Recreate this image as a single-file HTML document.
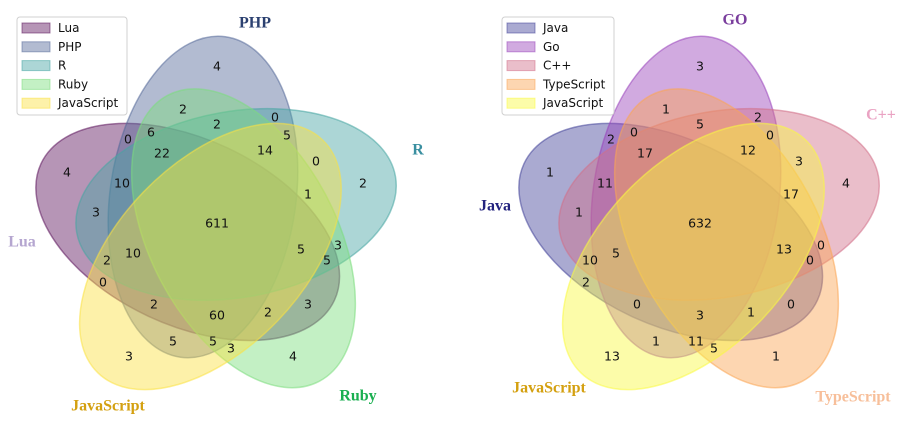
<!DOCTYPE html>
<html><head><meta charset="utf-8"><style>
html,body{margin:0;padding:0;background:#fff;}
svg{display:block;font-family:"DejaVu Sans","Liberation Sans",sans-serif;}
.num{font-size:12.5px;fill:#111;text-anchor:middle;dominant-baseline:central;}
.set{font-family:"Liberation Serif","DejaVu Serif",serif;font-weight:bold;font-size:16px;text-anchor:middle;dominant-baseline:central;}
.leg{font-size:12px;fill:#111;dominant-baseline:central;}
</style></head><body>
<svg id="chart" width="911" height="427" viewBox="0 0 911 427"></svg>
<script>
// shared layout (pyvenn venn5 geometry, unit coords)
const centersX = [0.428, 0.469, 0.558, 0.578, 0.489];
const centersY = [0.449, 0.543, 0.523, 0.432, 0.383];
const anglesDeg = [155, 82, 10, 118, 46];
// left diagram data
const leftSets = ["Lua","PHP","R","Ruby","JavaScript"];
const leftColors = ["#5d155d","#556999","#47a5a3","#7bdd7d","#fbe141"];
const leftTitleColors = ["#b5a6d0","#2b4070","#3a8fa0","#1aaf50","#d4a010"];
const leftValues = [4,4,2,2,0,5,6,0,22,14,0,2,10,1,3,611,5,3,5,10,2,0,2,60,2,3,5,5,3,4,3];
// right diagram data
const rightSets = ["Java","Go","C++","TypeScript","JavaScript"];
const rightTitles = ["Java","GO","C++","TypeScript","JavaScript"];
const rightColors = ["#434399","#9943bb","#d16f89","#fba553","#f9f941"];
const rightTitleColors = ["#23237f","#7a3e9d","#eaa3c3","#f7bf9a","#d4a010"];
const rightValues = [1,3,1,5,2,0,0,2,17,12,3,4,11,17,1,632,13,0,0,5,10,2,0,3,1,0,1,11,5,1,13];

// region label positions (pixel, left panel)
const regionPX = [67,217,183,217,275,287,151,128,162,265,316,363,122,308,96,217,301,338,327,133,107,103,154,217,268,308,173,213,231,293,129];
const regionPY = [172,66,109,124,117,135,132,139,153,150,161,183,183,194,212,223,249,245,260,253,260,282,304,315,312,304,341,341,348,356,356];
const leftTitleX = [22,255,418,358,108];
const leftTitleY = [242,23,150,396,406];
const rightTitleX = [495,735,881,853,549];
const rightTitleY = [206,20,115,397,388];

const S = 372, Y0 = 399;
const NS = "http://www.w3.org/2000/svg";
const svg = document.getElementById('chart');
function mk(tag, attrs, parent){const e=document.createElementNS(NS,tag);for(const k in attrs)e.setAttribute(k,attrs[k]);(parent||svg).appendChild(e);return e;}

function drawPanel(x0, dx, sets, titles, colors, titleColors, values, tX, tY, legX, legW, key){
  const g = mk('g',{});
  
  
  for(let i=0;i<5;i++){
    const cx = x0 + centersX[i]*S, cy = Y0 - centersY[i]*S;
    const e = mk('ellipse',{cx:cx,cy:cy,rx:0.435*S,ry:0.25*S,transform:`rotate(${-anglesDeg[i]} ${cx} ${cy})`,fill:colors[i],'fill-opacity':0.45,stroke:colors[i],'stroke-opacity':0.55,'stroke-width':1.5},g);
    
    
  }
  for(let i=0;i<values.length;i++){
    const t = mk('text',{x:regionPX[i]+dx,y:regionPY[i],class:'num'},g);
    t.textContent = values[i];
    
    
  }
  for(let i=0;i<5;i++){
    const t = mk('text',{x:tX[i],y:tY[i],class:'set',fill:titleColors[i]},g);
    t.textContent = titles[i];
    
    
  }
  const lg = mk('g',{},g);
  
  
  mk('rect',{x:legX,y:17,width:legW,height:98,rx:3,fill:'#fff','fill-opacity':0.8,stroke:'#d0d0d0'},lg);
  for(let i=0;i<5;i++){
    const y = 28 + i*18.8;
    const p = mk('rect',{x:legX+5,y:y-5,width:28,height:10,fill:colors[i],'fill-opacity':0.45,stroke:colors[i],'stroke-opacity':0.55},lg);
    
    
    const t = mk('text',{x:legX+41,y:y,class:'leg'},lg);
    t.textContent = sets[i];
    
    
  }
}
drawPanel(28.5, 0, leftSets, leftSets, leftColors, leftTitleColors, leftValues, leftTitleX, leftTitleY, 17, 110, 'left');
drawPanel(511.5, 483, rightSets, rightTitles, rightColors, rightTitleColors, rightValues, rightTitleX, rightTitleY, 502, 112, 'right');
</script>
</body></html>
